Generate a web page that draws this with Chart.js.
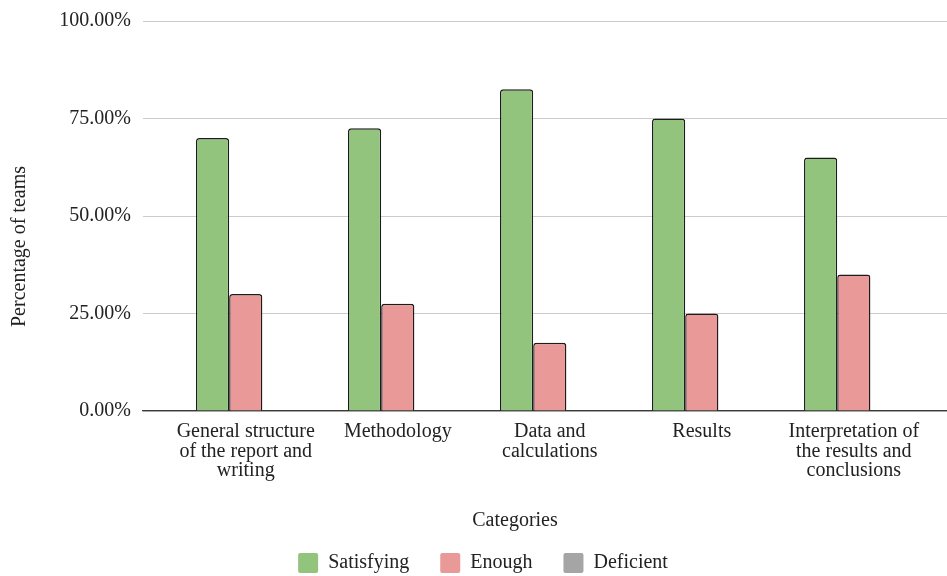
<!DOCTYPE html>
<html>
<head>
<meta charset="utf-8">
<title>Percentage of teams by category</title>
<script src="https://cdn.jsdelivr.net/npm/chart.js@4/dist/chart.umd.min.js"></script>
<style>
  html, body { margin: 0; padding: 0; background: #ffffff; }
  #wrap { width: 947px; height: 576px; }
</style>
</head>
<body>
<div id="wrap"><canvas id="chart" width="947" height="576"></canvas></div>
<script>
// Evaluation categories (multi-line tick labels)
const categories = [
  ["General structure", "of the report and", "writing"],
  ["Methodology"],
  ["Data and", "calculations"],
  ["Results"],
  ["Interpretation of", "the results and", "conclusions"]
];

// Share of teams per rating (%)
const satisfying = [70, 72.5, 82.5, 75, 65];
const enough     = [30, 27.5, 17.5, 25, 35];
const deficient  = [0, 0, 0, 0, 0];

// Value-axis ticks (%)
const yTicks = [0, 25, 50, 75, 100];

const seriesNames = ["Satisfying", "Enough", "Deficient"];
const seriesColors = ["#93c47d", "#ea9999", "#a5a5a5"];

const FONT_FAMILY = "'Liberation Serif', 'Times New Roman', serif";
const TEXT_COLOR = "#222222";

const toPoints = (values) => values.map((v, i) => ({ x: i, y: v }));

// Axis titles placed under the plot and beside the value axis
const axisTitles = {
  id: "axisTitles",
  afterDraw(chart) {
    const ctx = chart.ctx;
    ctx.save();
    ctx.font = "20px " + FONT_FAMILY;
    ctx.fillStyle = TEXT_COLOR;
    ctx.textAlign = "center";
    ctx.textBaseline = "middle";
    ctx.fillText("Categories", 515, 521);
    ctx.translate(20, 246.5);
    ctx.rotate(-Math.PI / 2);
    ctx.fillText("Percentage of teams", 0, 0);
    ctx.restore();
  }
};

const seriesData = [satisfying, enough, deficient];

new Chart(document.getElementById("chart"), {
  type: "bar",
  data: {
    datasets: seriesNames.map((name, k) => ({
      label: name,
      data: toPoints(seriesData[k]),
      backgroundColor: seriesColors[k],
      borderColor: "#1c1c1c",
      borderWidth: k === 2 ? 0 : 1.4,
      borderRadius: 3,
      borderSkipped: "start",
      categoryPercentage: 0.655,
      barPercentage: 1.0
    }))
  },
  plugins: [axisTitles],
  options: {
    responsive: false,
    animation: false,
    layout: { padding: { left: 19, right: 0, top: 21, bottom: -7 } },
    plugins: {
      tooltip: { enabled: false },
      legend: {
        position: "bottom",
        labels: {
          color: TEXT_COLOR,
          font: { family: FONT_FAMILY, size: 20 },
          boxWidth: 20,
          boxHeight: 20,
          padding: 31,
          useBorderRadius: true,
          borderRadius: 2,
          generateLabels(chart) {
            const items = Chart.defaults.plugins.legend.labels.generateLabels(chart);
            items.forEach((it) => {
              it.lineWidth = 0;
              it.strokeStyle = it.fillStyle;
            });
            return items;
          }
        }
      }
    },
    scales: {
      x: {
        type: "linear",
        offset: false,
        min: -0.676,
        max: categories.length - 1 + 0.613,
        afterBuildTicks(scale) {
          scale.ticks = categories.map((_, i) => ({ value: i }));
        },
        afterFit(scale) { scale.height = 111; },
        ticks: {
          autoSkip: false,
          maxRotation: 0,
          padding: 11,
          color: TEXT_COLOR,
          font: { family: FONT_FAMILY, size: 20, lineHeight: 0.975 },
          callback: (value, index) => categories[index]
        },
        grid: { display: false, drawTicks: false },
        border: { display: true, color: "#3a3a3a", width: 1.2 }
      },
      y: {
        min: 0,
        max: 100,
        afterBuildTicks(scale) {
          scale.ticks = yTicks.map((v) => ({ value: v }));
        },
        afterFit(scale) { scale.width = 124; },
        ticks: {
          padding: 12,
          color: TEXT_COLOR,
          font: { family: FONT_FAMILY, size: 20, lineHeight: 0.75 },
          callback: (value) => value.toFixed(2) + "%"
        },
        grid: { color: "#cccccc", lineWidth: 1, drawTicks: false },
        border: { display: false }
      }
    }
  }
});
</script>
</body>
</html>
